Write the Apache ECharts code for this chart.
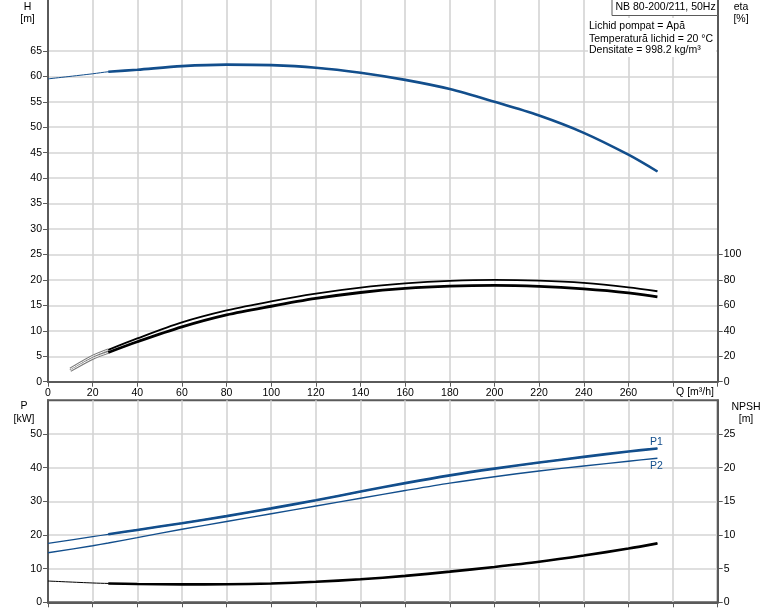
<!DOCTYPE html>
<html>
<head>
<meta charset="utf-8">
<script src="https://cdn.jsdelivr.net/npm/echarts@6/dist/echarts.min.js"></script>
<style>
html,body{margin:0;padding:0;background:#fff;}
#chart{width:774px;height:611px;}
</style>
</head>
<body>
<div id="chart"></div>
<script>
// ---- data ----
const qH = [0,20,27,40,60,80,100,120,140,160,180,200,220,240,260,273];
const headH = [59.5,60.5,60.9,61.3,62.0,62.3,62.2,61.7,60.7,59.3,57.5,55.0,52.3,48.9,44.6,41.3];

const qEta = [10,20,27,40,60,80,100,120,140,160,180,200,220,240,260,273];
const etaUpper = [10,20,25,34,46.6,56,63.2,69.3,74,77.2,79.2,80,79.4,77.6,74.2,71.1];
const etaLower = [8.8,18.4,23,31.4,43.1,52.5,59.3,65.4,70.1,73.3,75.1,75.7,74.9,72.9,69.8,66.7];

const qP = [0,20,27,40,60,80,100,120,140,160,180,200,220,240,260,273];
const powerP1 = [17.5,19.5,20.2,21.5,23.5,25.6,27.9,30.3,32.9,35.4,37.7,39.7,41.5,43.2,44.8,45.7];
const powerP2 = [14.7,16.8,17.6,19.2,21.7,24.0,26.3,28.6,30.9,33.2,35.4,37.3,39.0,40.5,41.9,42.8];
const npshR = [3.16,2.87,2.8,2.72,2.66,2.68,2.8,3.05,3.42,3.92,4.55,5.25,6.02,6.95,7.98,8.75];

const qTicks = [0,20,40,60,80,100,120,140,160,180,200,220,240,260];
const hTicks = [0,5,10,15,20,25,30,35,40,45,50,55,60,65];
const etaTicks = [0,20,40,60,80,100];
const pTicks = [0,10,20,30,40,50];
const npshTicks = [0,5,10,15,20,25];
const opStart = 27; // start of the drawn operating range

const infoLines = ['Lichid pompat = Apă', 'Temperatură lichid = 20 °C', 'Densitate = 998.2 kg/m³'];
const titleText = 'NB 80-200/211, 50Hz';

// ---- helpers ----
function pairs(xs, ys, f){ const out=[]; xs.forEach((x,i)=>{ if(f(x)) out.push([x, ys[i]]); }); return out; }
const all = () => true;
const thin = x => x <= opStart;
const thick = x => x >= opStart;

const BLUE = '#124e8c';
const AX = '#5a5a5a';
const GRIDC = '#d4d4d4';
const FONT = 'Liberation Sans, Arial, sans-serif';
const FS = 10.5;
const lbl = {color:'#000', fontSize:FS, fontFamily:FONT};

function xAx(gi, showLabel){
  return {
    type:'value', gridIndex:gi, min:0, max:300, interval:20,
    axisLine:{show:true, onZero:false, lineStyle:{color:AX, width:2}},
    axisTick:{show:true, length:5, lineStyle:{color:AX, width:1}},
    splitLine:{show:true, lineStyle:{color:GRIDC, width:1.6}},
    axisLabel: showLabel ? Object.assign({margin:6, customValues:qTicks, formatter:v=> v>260 ? '' : String(v)}, lbl) : {show:false}
  };
}
function yAx(gi, pos, min, max, interval, ticks, split){
  return {
    type:'value', gridIndex:gi, position:pos, min:min, max:max, interval:interval,
    axisLine:{show:true, onZero:false, lineStyle:{color:AX, width:2}},
    axisTick:{show:true, length:5, customValues:ticks, lineStyle:{color:AX, width:1}},
    splitLine:{show:split, lineStyle:{color:GRIDC, width:1.6}},
    axisLabel:Object.assign({margin:6, customValues:ticks, formatter:v=> v>ticks[ticks.length-1] ? '' : String(v)}, lbl)
  };
}
function line(xi, yi, data, color, width, z){
  return {type:'line', xAxisIndex:xi, yAxisIndex:yi, data:data, showSymbol:false, symbol:'none',
    smooth:0.3, silent:true, z:z||3, lineStyle:{color:color, width:width}, animation:false};
}

const chart = echarts.init(document.getElementById('chart'), null, {renderer:'canvas'});
const txt = (x,y,t,opts)=>({type:'text', x:x, y:y, z:100, style:Object.assign({text:t, fill:'#000', font:FS+'px '+FONT, textAlign:'center', textVerticalAlign:'middle'}, opts||{})});

chart.setOption({
  animation:false,
  backgroundColor:'#fff',
  grid:[
    {left:48, top:0, width:669.7, height:381.7, containLabel:false, outerBoundsMode:'none'},
    {left:48, top:400.3, width:669.7, height:202, containLabel:false, outerBoundsMode:'none', show:true, borderColor:AX, borderWidth:2, backgroundColor:'transparent'}
  ],
  xAxis:[xAx(0,true), xAx(1,false)],
  yAxis:[
    yAx(0,'left',0,75,5,hTicks,true),
    yAx(0,'right',0,300,20,etaTicks,false),
    yAx(1,'left',0,60,10,pTicks,true),
    yAx(1,'right',0,30,5,npshTicks,false)
  ],
  series:[
    line(0,0,pairs(qH,headH,all),BLUE,1),
    line(0,0,pairs(qH,headH,thick),BLUE,2.6,4),
    line(0,1,pairs(qEta,etaUpper,thin),'#7a7a7a',3),
    line(0,1,pairs(qEta,etaUpper,thin),'#ffffff',1,4),
    line(0,1,pairs(qEta,etaLower,thin),'#7a7a7a',3),
    line(0,1,pairs(qEta,etaLower,thin),'#ffffff',1,4),
    line(0,1,pairs(qEta,etaUpper,thick),'#000',1.8,5),
    line(0,1,pairs(qEta,etaLower,thick),'#000',2.8,5),
    line(1,2,pairs(qP,powerP1,all),BLUE,1.2),
    line(1,2,pairs(qP,powerP1,thick),BLUE,2.6,4),
    line(1,2,pairs(qP,powerP2,all),BLUE,1.4),
    line(1,3,pairs(qP,npshR,all),'#000',1),
    line(1,3,pairs(qP,npshR,thick),'#000',2.6,4)
  ],
  graphic:[
    txt(27.5,7,'H'), txt(27.5,19,'[m]'),
    txt(741,7,'eta'), txt(741,19,'[%]'),
    txt(24,406,'P'), txt(24,419,'[kW]'),
    txt(746,407,'NPSH'), txt(746,419.5,'[m]'),
    txt(714,392,'Q [m³/h]',{textAlign:'right'}),
    {type:'rect', z:90, shape:{x:612,y:-2,width:105.5,height:17.5}, style:{fill:'#fff', stroke:AX, lineWidth:1}},
    txt(615.5,7.5,titleText,{textAlign:'left'}),
    {type:'rect', z:90, shape:{x:588,y:18,width:128,height:39}, style:{fill:'#fff'}},
    txt(589,26,infoLines[0],{textAlign:'left'}),
    txt(589,38.7,infoLines[1],{textAlign:'left'}),
    txt(589,50.5,infoLines[2],{textAlign:'left'}),
    txt(650,441.7,'P1',{textAlign:'left', fill:BLUE}),
    txt(650,465.7,'P2',{textAlign:'left', fill:BLUE})
  ]
});
</script>
</body>
</html>
